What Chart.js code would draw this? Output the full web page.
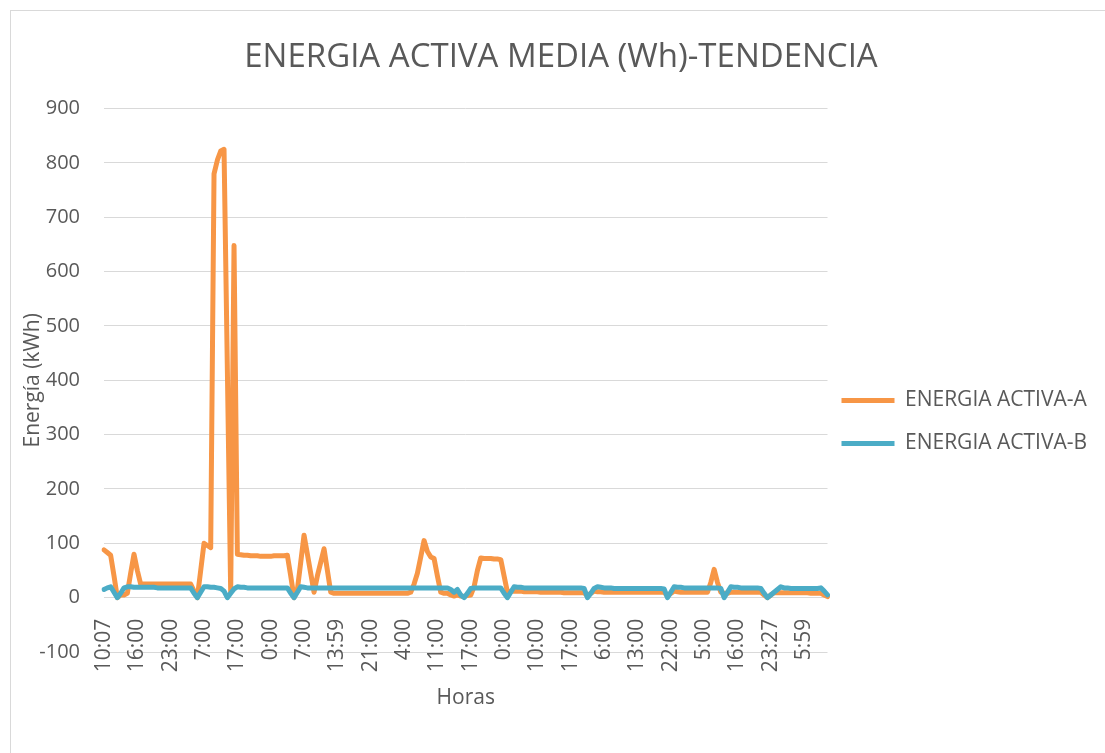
<!DOCTYPE html>
<html>
<head>
<meta charset="utf-8">
<script src="https://cdn.jsdelivr.net/npm/chart.js@4.4.1/dist/chart.umd.min.js"></script>
<style>
    html, body { margin: 0; padding: 0; background: #fff; overflow: hidden; }
    #wrap { position: relative; width: 1105px; height: 753px; }
    #frame { position: absolute; left: 10px; top: 10px; width: 1100px; height: 760px;
             border: 1px solid #d9d9d9; pointer-events: none; }
</style>
</head>
<body>
<div id="wrap">
    <canvas id="chart" width="1105" height="753"></canvas>
    <div id="frame"></div>
</div>
<script>
// Tick labels shown on the category axis (one every 10 readings)
const tickLabels = ['10:07', '16:00', '23:00', '7:00', '17:00', '0:00', '7:00', '13:59',
    '21:00', '4:00', '11:00', '17:00', '0:00', '10:00', '17:00', '6:00', '13:00',
    '22:00', '5:00', '16:00', '23:27', '5:59'];
const labelStep = 10;

// ENERGIA ACTIVA-A readings
const energiaA = [
    88, 83, 78, 40, 0, 5, 5, 8, 45, 80,
    50, 25, 25, 25, 25, 25, 25, 25, 25, 25,
    25, 25, 25, 25, 25, 25, 25, 12, 0, 50,
    100, 96, 92, 780, 805, 822, 825, 420, 10, 648,
    80, 79, 78, 78, 77, 77, 77, 76, 76, 76,
    76, 77, 77, 77, 77, 78, 40, 0, 15, 65,
    115, 80, 45, 10, 40, 65, 90, 50, 10, 8,
    8, 8, 8, 8, 8, 8, 8, 8, 8, 8,
    8, 8, 8, 8, 8, 8, 8, 8, 8, 8,
    8, 8, 10, 25, 45, 75, 105, 85, 75, 72,
    40, 10, 8, 8, 5, 3, 5, 3, 2, 4,
    5, 20, 50, 73, 72, 72, 72, 71, 71, 70,
    40, 10, 12, 12, 12, 12, 11, 11, 11, 11,
    11, 10, 10, 10, 10, 10, 10, 10, 9, 9,
    9, 9, 9, 9, 9, 3, 8, 12, 11, 11,
    10, 10, 10, 10, 10, 10, 10, 10, 10, 10,
    10, 10, 10, 10, 10, 10, 10, 10, 10, 3,
    8, 12, 11, 10, 10, 10, 10, 10, 10, 10,
    10, 10, 28, 52, 28, 10, 8, 8, 10, 10,
    10, 10, 10, 10, 10, 10, 10, 10, 5, 0,
    5, 9, 9, 9, 9, 9, 9, 9, 9, 9,
    9, 9, 8, 8, 8, 8, 5, 2
];

// ENERGIA ACTIVA-B readings
const energiaB = [
    15, 18, 20, 10, 0, 8, 18, 20, 20, 19,
    19, 19, 19, 19, 19, 19, 18, 18, 18, 18,
    18, 18, 18, 18, 18, 18, 18, 8, 0, 10,
    20, 20, 19, 19, 18, 17, 12, 0, 8, 16,
    20, 19, 19, 18, 18, 18, 18, 18, 18, 18,
    18, 18, 18, 18, 18, 18, 8, 0, 10, 20,
    19, 18, 18, 18, 18, 18, 18, 18, 18, 18,
    18, 18, 18, 18, 18, 18, 18, 18, 18, 18,
    18, 18, 18, 18, 18, 18, 18, 18, 18, 18,
    18, 18, 18, 18, 18, 18, 18, 18, 18, 18,
    18, 18, 18, 18, 15, 10, 15, 5, 0, 8,
    17, 18, 18, 18, 18, 18, 18, 18, 18, 18,
    8, 0, 10, 20, 19, 19, 18, 18, 18, 18,
    18, 18, 18, 18, 18, 18, 18, 18, 18, 18,
    18, 18, 18, 18, 17, 0, 8, 17, 20, 19,
    18, 18, 18, 17, 17, 17, 17, 17, 17, 17,
    17, 17, 17, 17, 17, 17, 17, 17, 16, 0,
    10, 20, 19, 19, 18, 18, 18, 18, 18, 18,
    18, 18, 18, 18, 18, 17, 0, 10, 20, 19,
    19, 18, 18, 18, 18, 18, 18, 17, 8, 0,
    5, 10, 15, 20, 18, 18, 17, 17, 17, 17,
    17, 17, 17, 17, 17, 18, 12, 5
];

// Category labels: every 10th reading carries a visible time
const categories = energiaA.map((v, i) => (i % labelStep === 0 ? (tickLabels[i / labelStep] || '') : ''));

const textColor = '#595959';
const gridColor = '#d9d9d9';
const fontFamily = '"Open Sans", "Noto Sans", sans-serif';

// Excel keeps the legend block a bit lower and closer to the plot than Chart.js does,
// and centres the title a little to the right
const layoutShift = {
    id: 'layoutShift',
    afterLayout(chart) {
        const lg = chart.legend;
        if (lg) {
            lg.left -= 8;
            lg.right -= 8;
            lg.top += 96;
            lg.bottom += 96;
        }
        const tt = chart.titleBlock;
        if (tt) {
            tt.left += 6;
            tt.right += 6;
        }
    }
};

const chart = new Chart(document.getElementById('chart').getContext('2d'), {
    type: 'line',
    data: {
        labels: categories,
        datasets: [
            {
                label: 'ENERGIA ACTIVA-A',
                data: energiaA,
                borderColor: '#F79646',
                backgroundColor: '#F79646',
                borderWidth: 5,
                borderCapStyle: 'round',
                borderJoinStyle: 'round',
                pointRadius: 0,
                tension: 0,
                order: 1
            },
            {
                label: 'ENERGIA ACTIVA-B',
                data: energiaB,
                borderColor: '#4BACC6',
                backgroundColor: '#4BACC6',
                borderWidth: 5,
                borderCapStyle: 'round',
                borderJoinStyle: 'round',
                pointRadius: 0,
                tension: 0,
                order: 0
            }
        ]
    },
    options: {
        responsive: false,
        animation: false,
        layout: {
            padding: { left: 10, right: 5, top: 0, bottom: 101 }
        },
        plugins: {
            title: {
                display: true,
                text: 'ENERGIA ACTIVA MEDIA (Wh)-TENDENCIA',
                color: textColor,
                font: { family: fontFamily, size: 33, weight: 'normal' },
                padding: { top: 38, bottom: 31 }
            },
            legend: {
                display: true,
                position: 'right',
                labels: {
                    usePointStyle: true,
                    pointStyle: 'line',
                    pointStyleWidth: 53,
                    padding: 22,
                    color: textColor,
                    font: { family: fontFamily, size: 21 },
                    sort: (a, b) => a.datasetIndex - b.datasetIndex
                }
            },
            tooltip: { enabled: false }
        },
        scales: {
            x: {
                position: { y: 0 },
                offset: false,
                grid: { display: false, drawTicks: false },
                border: { display: false },
                ticks: {
                    autoSkip: false,
                    maxRotation: 90,
                    minRotation: 90,
                    padding: 21,
                    color: textColor,
                    font: { family: fontFamily, size: 21 }
                },
                title: {
                    display: true,
                    text: 'Horas',
                    color: textColor,
                    font: { family: fontFamily, size: 21 },
                    padding: { top: -8, bottom: 0 }
                }
            },
            y: {
                min: -100,
                max: 900,
                grid: { color: gridColor, lineWidth: 1, drawTicks: false },
                border: { display: false },
                ticks: {
                    stepSize: 100,
                    padding: 24,
                    color: textColor,
                    font: { family: fontFamily, size: 20 }
                },
                title: {
                    display: true,
                    text: 'Energía (kWh)',
                    color: textColor,
                    font: { family: fontFamily, size: 21 },
                    padding: { top: 10, bottom: 0 }
                },
                afterFit: (scale) => { scale.width = 94; }
            }
        }
    },
    plugins: [layoutShift]
});
</script>
</body>
</html>
